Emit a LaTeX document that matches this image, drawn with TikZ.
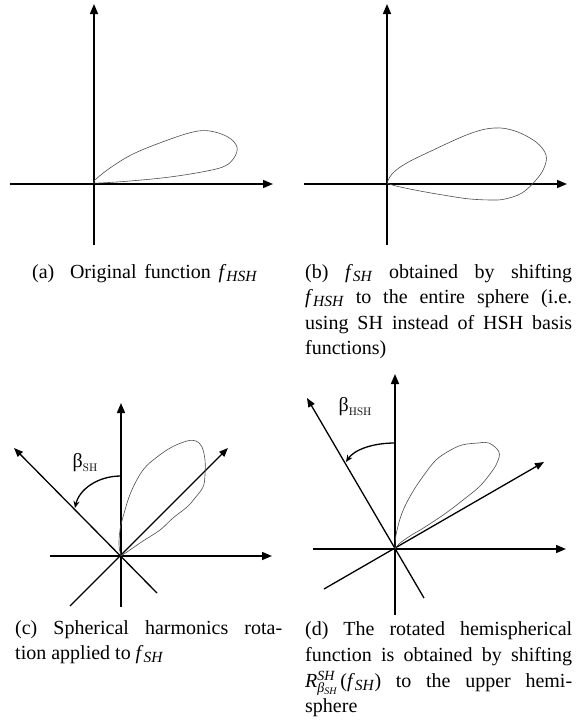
\documentclass[tikz,border=0pt]{standalone}
\usepackage{fontspec}
\setmainfont{Liberation Serif}
\newfontfamily\lmr{Latin Modern Roman}
\usetikzlibrary{arrows.meta}
\newcommand\fsub[1]{\textit{f}{\fontsize{15.5}{15.5}\selectfont\raisebox{-3pt}{\textit{#1}}}}
\newcommand\Rsym{\textit{R}\rlap{\raisebox{7pt}{\fontsize{14}{14}\selectfont\textit{SH}}}\raisebox{-5pt}{\fontsize{14}{14}\selectfont\textit{β}\raisebox{-2.5pt}{\fontsize{10}{10}\selectfont\textit{SH}}}}
\newcommand\blabel[1]{{\fontsize{20}{20}\selectfont β}\raisebox{-4pt}{\lmr\fontsize{11}{11}\selectfont #1}}
\tikzset{
  axisarrow/.style={line width=1.5pt, -{Triangle[length=10pt,width=8pt]}},
  diagarrow/.style={line width=1.3pt, -{Triangle[length=9pt,width=7pt]}},
  lobe/.style={line width=0.6pt, draw=black!70},
  rotarrow/.style={line width=1.3pt, -{Stealth[length=7pt,width=6pt]}},
  captxt/.style={inner sep=0pt, anchor=base west, font=\fontsize{20}{24}\selectfont},
  lbl/.style={inner sep=0pt}
}
\begin{document}
\begin{tikzpicture}[x=1pt,y=-1pt]
\useasboundingbox (0,0) rectangle (578,723);
% ---------- (a)
\coordinate (aO) at (94,184);
\coordinate (aT) at (94,4);
\coordinate (aB) at (94,245);
\coordinate (aL) at (10,184);
\coordinate (aR) at (273,184);
\draw[axisarrow] (aB) -- (aT);
\draw[axisarrow] (aL) -- (aR);
\draw[lobe] plot[smooth, tension=0.6] coordinates {(94,183) (95,180) (110,168) (133,154) (165,141) (193,132) (210,131) (228,137) (237,147) (234,158) (225,166) (207,171) (170,177) (130,181) (100,183) (94,183)};
% ---------- (b)
\coordinate (bO) at (387,184);
\coordinate (bT) at (387,4);
\coordinate (bB) at (387,245);
\coordinate (bL) at (304,184);
\coordinate (bR) at (567,184);
\draw[axisarrow] (bB) -- (bT);
\draw[axisarrow] (bL) -- (bR);
\draw[lobe] plot[smooth, tension=0.6] coordinates {(387,183) (392,174) (405,164) (429,152) (469,134) (494,128) (515,131) (536,142) (546,155) (544,168) (536,180) (522,193) (505,199) (492,200) (470,199) (449,196) (420,191) (396,186) (387,183)};
% ---------- (c)
\coordinate (cO) at (121,556);
\coordinate (cT) at (121,403);
\coordinate (cB) at (121,607);
\coordinate (cL) at (50,556);
\coordinate (cR) at (272,556);
\coordinate (cUL) at (14,448);
\coordinate (cDR) at (157,593);
\coordinate (cUR) at (228,448);
\coordinate (cDL) at (70,606);
\draw[axisarrow] (cB) -- (cT);
\draw[axisarrow] (cL) -- (cR);
\draw[diagarrow] (cDR) -- (cUL);
\draw[diagarrow] (cDL) -- (cUR);
\draw[lobe] plot[smooth, tension=0.6] coordinates {(121,556) (119,545) (120,530) (123,517) (131,492) (143,470) (157,457) (172,447) (187,441) (196,441) (202,447) (205,460) (205,475) (203,487) (195,498) (187,507) (173,518) (160,530) (143,541) (127,552) (121,556)};
\coordinate (cA1) at (121,476);
\coordinate (cA2) at (75,508);
\draw[rotarrow] (cA1) .. controls (97,476) and (79,490) .. (cA2);
\node[lbl] (cbeta) at (85,463) {\blabel{SH}};
% ---------- (d)
\coordinate (dO) at (395,549);
\coordinate (dT) at (395,374);
\coordinate (dB) at (395,615);
\coordinate (dL) at (313,549);
\coordinate (dR) at (566,549);
\coordinate (dUL) at (307,398);
\coordinate (dDR) at (424,598);
\coordinate (dUR) at (544,462);
\coordinate (dDL) at (324,589);
\draw[axisarrow] (dB) -- (dT);
\draw[axisarrow] (dL) -- (dR);
\draw[diagarrow] (dDR) -- (dUL);
\draw[diagarrow] (dDL) -- (dUR);
\draw[lobe] plot[smooth, tension=0.6] coordinates {(395,549) (396,535) (402,513) (412,493) (424,475) (436,460) (449,451) (462,445) (478,443) (489,443) (499,452) (497,463) (490,474) (479,487) (463,500) (446,513) (425,527) (410,536) (399,544) (395,549)};
\coordinate (dA1) at (395,443);
\coordinate (dA2) at (346,462);
\draw[rotarrow] (dA1) .. controls (372,443) and (354,450) .. (dA2);
\node[lbl] (dbeta) at (355,407) {\blabel{HSH}};
% ---------- captions
\node[captxt] (a1) at (32,278) {\makebox[225pt][s]{(a)\hspace{8pt} Original function \fsub{HSH}}};
\node[captxt] (b1) at (305,278) {\makebox[267pt][s]{(b) \fsub{SH} obtained by shifting}};
\node[captxt] (b2) at (305,303.5) {\makebox[267pt][s]{\fsub{HSH} to the entire sphere (i.e.}};
\node[captxt] (b3) at (305,329) {\makebox[267pt][s]{using SH instead of HSH basis}};
\node[captxt] (b4) at (305,354) {functions)};
\node[captxt] (c1) at (15,634) {\makebox[267pt][s]{(c) Spherical harmonics rota-}};
\node[captxt] (c2) at (15,659) {tion applied to \fsub{SH}};
\node[captxt] (d1) at (305,635) {\makebox[267pt][s]{(d) The rotated hemispherical}};
\node[captxt] (d2) at (305,661) {\makebox[267pt][s]{function is obtained by shifting}};
\node[captxt] (d3) at (305,687) {\makebox[267pt][s]{\Rsym\,(\fsub{SH}) to the upper hemi-}};
\node[captxt] (d4) at (305,712) {sphere};
\end{tikzpicture}
\end{document}
